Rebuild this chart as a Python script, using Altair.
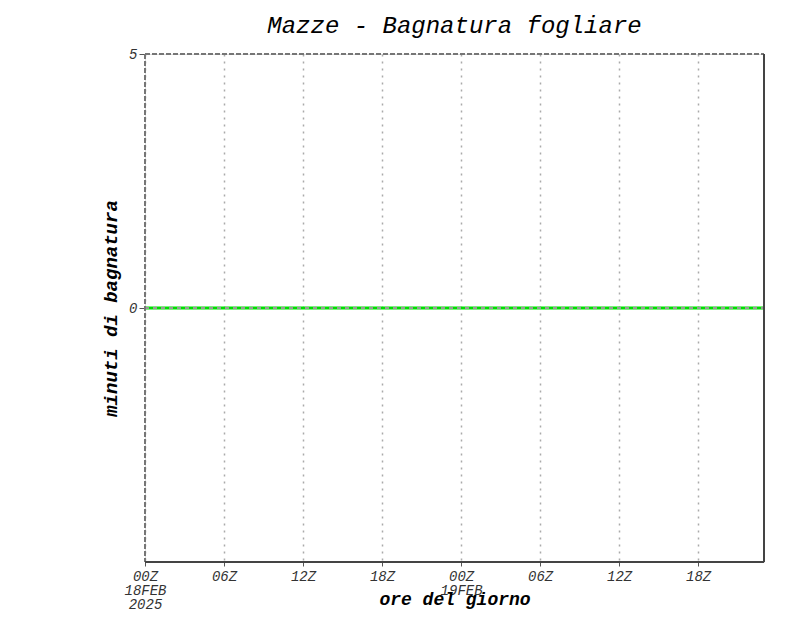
import altair as alt
import pandas as pd

hours = [0, 1, 2, 3, 4, 5, 6, 7, 8, 9, 10, 11, 12, 13, 14, 15, 16, 17, 18, 19, 20, 21, 22, 23,
         24, 25, 26, 27, 28, 29, 30, 31, 32, 33, 34, 35, 36, 37, 38, 39, 40, 41, 42, 43, 44, 45, 46, 47]
wetness = [0, 0, 0, 0, 0, 0, 0, 0, 0, 0, 0, 0, 0, 0, 0, 0, 0, 0, 0, 0, 0, 0, 0, 0,
           0, 0, 0, 0, 0, 0, 0, 0, 0, 0, 0, 0, 0, 0, 0, 0, 0, 0, 0, 0, 0, 0, 0, 0]
tick_hours = [0, 6, 12, 18, 24, 30, 36, 42]
y_ticks = [0, 5]

df = pd.DataFrame({"h": hours, "v": wetness})

FONT = "Liberation Mono"
W, H = 619, 508

xscale = alt.Scale(domain=[0, 47], nice=False, zero=False)
yscale = alt.Scale(domain=[-5, 5], nice=False)

label_expr = ("datum.value == 0 ? ['00Z','18FEB','2025'] : datum.value == 24 ? ['00Z','19FEB'] : "
              "((datum.value % 24) < 10 ? '0' + (datum.value % 24) + 'Z' : (datum.value % 24) + 'Z')")

base = alt.Chart(df)

line = base.mark_line(color="#00e000", strokeWidth=3).encode(
    x=alt.X("h:Q", scale=xscale,
            axis=alt.Axis(values=tick_hours, labelExpr=label_expr, labelFont=FONT, labelFontSize=14,
                          labelFontStyle="italic", labelColor="#333", labelLineHeight=14,
                          labelPadding=3, tickSize=4, tickColor="#555", domain=False,
                          grid=True, gridDash=[2, 5], gridColor="#aaaaaa", gridWidth=1.5,
                          title="ore del giorno", titleFont=FONT, titleFontSize=18,
                          titleFontWeight="bold", titleFontStyle="italic", titleColor="#000",
                          titleY=42, titleBaseline="alphabetic", labelFlush=False)),
    y=alt.Y("v:Q", scale=yscale,
            axis=alt.Axis(values=y_ticks, labelFont=FONT, labelFontSize=14, labelFontStyle="italic",
                          labelColor="#333", tickSize=6, tickColor="#555", domain=False, grid=False,
                          labelPadding=2,
                          title="minuti di bagnatura", titleFont=FONT, titleFontSize=19,
                          titleFontWeight="bold", titleFontStyle="italic", titleColor="#000",
                          titlePadding=8)),
)

zero_dash = base.mark_rule(color="#999999", strokeDash=[4, 4], strokeWidth=1).encode(
    x=alt.value(0), x2=alt.value(W), y=alt.value(H / 2))

left = base.mark_rule(color="#777", strokeDash=[5, 2], strokeWidth=1).encode(
    x=alt.value(0), y=alt.value(0), y2=alt.value(H))
top = base.mark_rule(color="#777", strokeDash=[5, 2], strokeWidth=1).encode(
    x=alt.value(0), x2=alt.value(W), y=alt.value(0))
right = base.mark_rule(color="#444", strokeWidth=1).encode(
    x=alt.value(W), y=alt.value(0), y2=alt.value(H))
bottom = base.mark_rule(color="#444", strokeWidth=1).encode(
    x=alt.value(0), x2=alt.value(W), y=alt.value(H))

chart = alt.layer(line, zero_dash, left, top, right, bottom).properties(
    width=W, height=H,
    autosize=alt.AutoSizeParams(type="none"),
    padding={"left": 137, "top": 46, "right": 28, "bottom": 56},
    title=alt.TitleParams("Mazze - Bagnatura fogliare", font=FONT, fontSize=24,
                          fontStyle="italic", fontWeight="normal", color="#000",
                          anchor="middle", offset=9),
).configure_view(stroke=None).configure(background="white")

chart.save("out.html", embed_options={"renderer": "svg", "actions": False})
